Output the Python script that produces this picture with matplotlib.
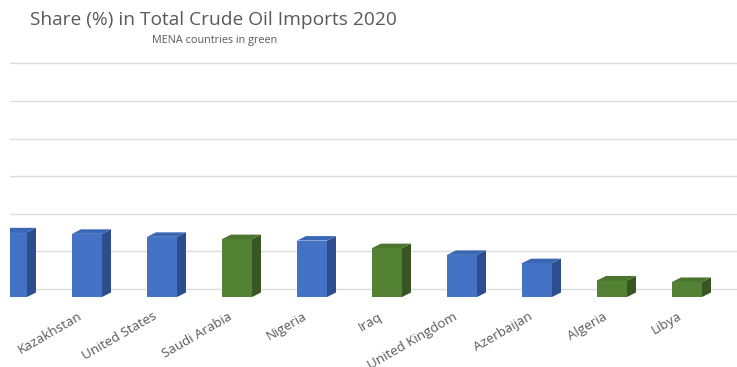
import matplotlib.pyplot as plt
from matplotlib.transforms import offset_copy

plt.rcParams["font.family"] = ["Open Sans", "DejaVu Sans"]

countries = ["Norway", "Kazakhstan", "United States", "Saudi Arabia", "Nigeria",
             "Iraq", "United Kingdom", "Azerbaijan", "Algeria", "Libya"]
shares = [8.6, 8.4, 8.0, 7.7, 7.5, 6.5, 5.6, 4.5, 2.2, 2.0]
mena = [False, False, False, True, False, True, False, False, True, True]
grid_values = [0, 5, 10, 15, 20, 25, 30]

# colours for front / side / top faces
blue = ("#4472C4", "#2C4E8E", "#3B66B4")
green = ("#548235", "#375623", "#4A752E")

W, H = 737, 367
fig = plt.figure(figsize=(W / 100, H / 100), dpi=100)
left_px = 10
ax = fig.add_axes([left_px / W, 0, (W - left_px) / W, 1])

px_x = 75.0      # pixels per category
px_y = 7.52      # pixels per percent
x0_px = 12       # pixel x of first category
floor_px = 297   # pixel y of front floor
ax.set_xlim((left_px - x0_px) / px_x, (W - x0_px) / px_x)
ax.set_ylim(-(H - floor_px) / px_y, floor_px / px_y)
ax.axis("off")

# back-wall gridlines, shifted up by the depth of the floor
wall = offset_copy(ax.transData, fig=fig, x=0, y=8, units="dots")
for g in grid_values:
    ax.plot([-1, 20], [g, g], color="#DDDDDD", lw=1.0, transform=wall, zorder=1)

bw = 0.4
dx, dy = 9 / px_x, 4.5 / px_y
for i, (name, v, m) in enumerate(zip(countries, shares, mena)):
    front, side, top = green if m else blue
    ax.bar(i, v, width=bw, color=front, zorder=3)
    r = i + bw / 2
    l = i - bw / 2
    ax.fill([r, r + dx, r + dx, r], [0, dy, v + dy, v], color=side, zorder=3, lw=0)
    ax.fill([l, r, r + dx, l + dx], [v, v, v + dy, v + dy], color=top, zorder=3, lw=0)
    ax.text(i - 0.12, -1.7, name, rotation=30, rotation_mode="anchor",
            ha="right", va="top", fontsize=9.6, color="#595959", clip_on=True)

fig.text(30 / W, 1 - 20 / H, "Share (%) in Total Crude Oil Imports 2020",
         fontsize=13.8, color="#595959", ha="left", va="center")
fig.text(215 / W, 1 - 40 / H, "MENA countries in green",
         fontsize=7.8, color="#595959", ha="center", va="center")

fig.savefig("out.png", dpi=100)
